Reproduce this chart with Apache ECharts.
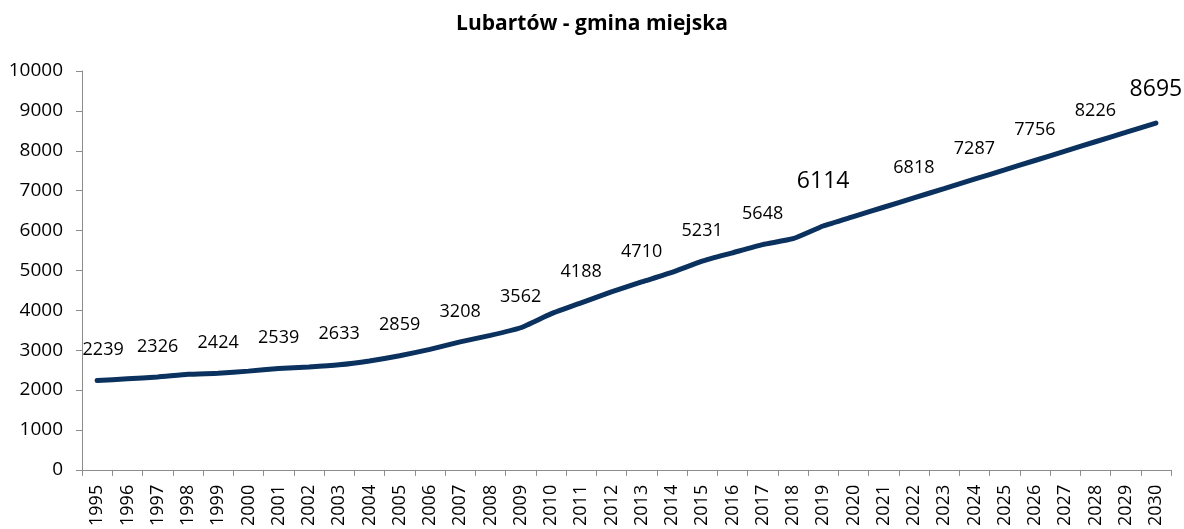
<!DOCTYPE html>
<html>
<head>
<meta charset="utf-8">
<title>Lubartów - gmina miejska</title>
<script src="https://cdn.jsdelivr.net/npm/echarts@6/dist/echarts.min.js"></script>
<style>
  html, body { margin: 0; padding: 0; background: #fff; }
  #chart { width: 1184px; height: 529px; }
</style>
</head>
<body>
<div id="chart"></div>
<script>
// lata (kategorie osi X)
var years = ['1995','1996','1997','1998','1999','2000','2001','2002','2003','2004','2005','2006',
  '2007','2008','2009','2010','2011','2012','2013','2014','2015','2016','2017','2018',
  '2019','2020','2021','2022','2023','2024','2025','2026','2027','2028','2029','2030'];

// liczba mieszkańców (nieopisane punkty)
var population = [2239, 2282, 2326, 2395, 2424, 2475, 2539, 2578, 2633, 2730, 2859, 3020,
  3208, 3370, 3562, 3910, 4188, 4460, 4710, 4950, 5231, 5440, 5648, 5795,
  6114, 6350, 6584, 6818, 7052, 7287, 7521, 7756, 7991, 8226, 8460, 8695];

// lata z etykietą danych, wyróżnione etykiety są większe
var labelledYears = ['1995','1997','1999','2001','2003','2005','2007','2009','2011','2013',
  '2015','2017','2019','2022','2024','2026','2028','2030'];
var bigLabelYears = ['2019', '2030'];

var yTicks = { min: 0, max: 10000, interval: 1000 };

var font = 'Open Sans';
var chart = echarts.init(document.getElementById('chart'));

var seriesData = population.map(function (v, i) {
  var y = years[i];
  var item = { value: v };
  if (labelledYears.indexOf(y) < 0) {
    item.label = { show: false };
  } else if (bigLabelYears.indexOf(y) >= 0) {
    item.label = { show: true, fontSize: 23, distance: y === '2019' ? 33 : 22 };
  } else if (y === '1995') {
    item.label = { show: true, offset: [6, 0] };
  }
  return item;
});

var option = {
  animation: false,
  backgroundColor: '#fff',
  title: {
    text: 'Lubartów - gmina miejska',
    left: 'center',
    top: 9,
    textStyle: { fontFamily: font, fontSize: 21, fontWeight: 'bold', color: '#000' }
  },
  grid: { left: 82, right: 13, top: 71, bottom: 57, containLabel: false },
  xAxis: {
    type: 'category',
    data: years,
    boundaryGap: true,
    axisLine: { lineStyle: { color: '#8c8c8c', width: 1 } },
    axisTick: { show: true, length: 6, alignWithLabel: false, lineStyle: { color: '#8c8c8c' } },
    axisLabel: { rotate: 90, interval: 0, margin: 15, fontFamily: font, fontSize: 18, color: '#000' },
    splitLine: { show: false }
  },
  yAxis: {
    type: 'value',
    min: yTicks.min,
    max: yTicks.max,
    interval: yTicks.interval,
    axisLine: { show: true, lineStyle: { color: '#8c8c8c', width: 1 } },
    axisTick: { show: true, length: 6, lineStyle: { color: '#8c8c8c' } },
    axisLabel: { fontFamily: font, fontSize: 19, color: '#000', margin: 19, formatter: function (v) { return String(v); } },
    splitLine: { show: false }
  },
  series: [{
    type: 'line',
    data: seriesData,
    symbol: 'circle',
    symbolSize: 1,
    showSymbol: true,
    smooth: 0.15,
    lineStyle: { color: '#0b315f', width: 5, cap: 'round' },
    itemStyle: { color: '#0b315f' },
    label: {
      show: true,
      position: 'top',
      distance: 21,
      fontFamily: font,
      fontSize: 18,
      color: '#000'
    }
  }]
};

chart.setOption(option);
</script>
</body>
</html>
